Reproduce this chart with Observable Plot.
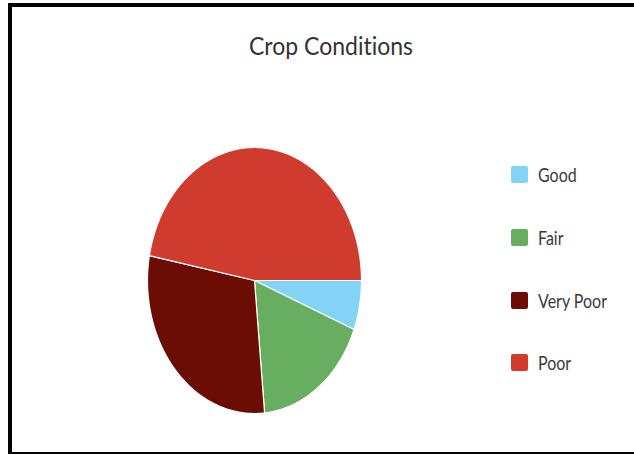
<!DOCTYPE html>
<html>
<head>
<meta charset="utf-8">
<script src="https://cdn.jsdelivr.net/npm/d3@7"></script>
<script src="https://cdn.jsdelivr.net/npm/@observablehq/plot@0.6"></script>
<style>
  html, body { margin: 0; padding: 0; background: #fff; overflow: hidden; }
  #wrap { position: relative; width: 634px; height: 454px; font-family: Lato, "Open Sans", sans-serif; font-variant-ligatures: none; }
  #frame { position: absolute; left: 8px; top: 3px; width: 640px; height: 445px; border-left: 4px solid #000; border-top: 4px solid #000; border-bottom: 3px solid #000; }
  #title { position: absolute; left: 0; width: 662px; top: 31px; text-align: center; font-size: 23px; color: #333; transform: scaleY(1.12); }
  #chart { position: absolute; left: 0; top: 0; }
  #legend { position: absolute; left: 511px; top: 0; }
  .item { position: absolute; left: 0; display: flex; align-items: center; white-space: nowrap; font-size: 16px; color: #3a3a3a; }
  .item span { display: inline-block; transform: scaleY(1.15); }
  .sw { width: 17px; height: 17px; border-radius: 2px; margin-right: 10px; }
</style>
</head>
<body>
<div id="wrap">
  <div id="frame"></div>
  <div id="title">Crop Conditions</div>
  <div id="chart"></div>
  <div id="legend"></div>
</div>
<script>
const categories = ["Good", "Fair", "Very Poor", "Poor"];
const values = [6, 17.5, 29.5, 47];
const colors = ["#82d3f6", "#68ae60", "#6b0d05", "#cf3b2c"];

const data = categories.map((c, i) => ({category: c, value: values[i]}));
const arcs = d3.pie().sort(null).value(d => d.value)
  .startAngle(Math.PI / 2).endAngle(Math.PI / 2 + 2 * Math.PI)(data);

// outline each slice as a closed polygon (center + arc)
const pts = [];
for (const a of arcs) {
  const cat = a.data.category;
  pts.push({category: cat, x: 0, y: 0});
  const n = Math.max(2, Math.ceil((a.endAngle - a.startAngle) / (Math.PI / 180)));
  for (let k = 0; k <= n; k++) {
    const t = a.startAngle + (a.endAngle - a.startAngle) * k / n;
    pts.push({category: cat, x: Math.sin(t), y: -Math.cos(t)});
  }
}

const plot = Plot.plot({
  width: 634,
  height: 454,
  marginLeft: 147,
  marginRight: 273,
  marginTop: 147,
  marginBottom: 41,
  x: {domain: [-1, 1], axis: null},
  y: {domain: [-1, 1], reverse: true, axis: null},
  color: {domain: categories, range: colors},
  marks: [
    Plot.line(pts, {x: "x", y: "y", z: "category", fill: "category", stroke: "#fff", strokeWidth: 1.2, curve: "linear-closed"})
  ]
});
document.getElementById("chart").appendChild(plot);

const legend = document.getElementById("legend");
const rowY = [174, 237, 300, 362];
categories.forEach((c, i) => {
  const it = document.createElement("div");
  it.className = "item";
  it.style.top = (rowY[i] - 11) + "px";
  it.style.height = "22px";
  const sw = document.createElement("div");
  sw.className = "sw";
  sw.style.background = plot.scale("color").apply(c);
  const lb = document.createElement("span");
  lb.textContent = c;
  it.appendChild(sw);
  it.appendChild(lb);
  legend.appendChild(it);
});
</script>
</body>
</html>
